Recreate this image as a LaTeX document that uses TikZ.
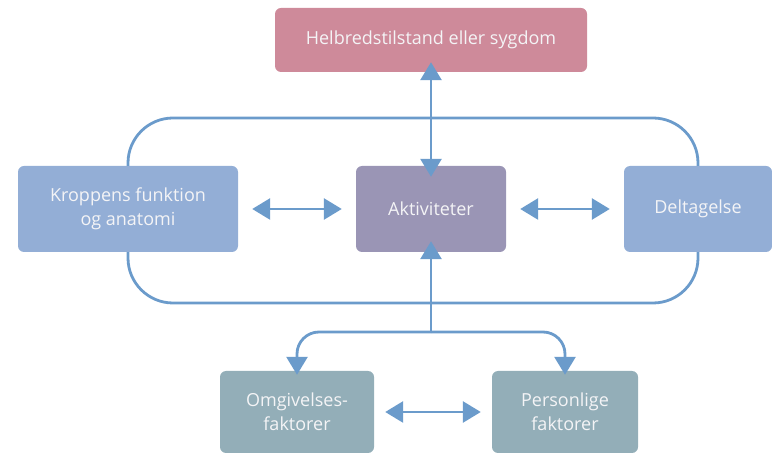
\documentclass[tikz,border=0pt]{standalone}
\usepackage{fontspec}
\setmainfont{Open Sans}
\usetikzlibrary{arrows.meta}
\definecolor{pinkbox}{HTML}{CE8A9A}
\definecolor{bluebox}{HTML}{93AED6}
\definecolor{purplebox}{HTML}{9A95B5}
\definecolor{tealbox}{HTML}{93AEB8}
\definecolor{linecol}{HTML}{6B9BCB}
\definecolor{txt}{HTML}{F4F4F6}
\begin{document}
\begin{tikzpicture}[x=1pt,y=-1pt,
  box/.style={rounded corners=6pt, text=txt, font=\fontsize{18}{24}\selectfont, align=center, inner sep=0pt, draw=none},
  conn/.style={draw=linecol, line width=2.8pt},
  dbl/.style={conn, {Triangle[length=18pt,width=21pt]}-{Triangle[length=18pt,width=21pt]}},
  one/.style={conn, -{Triangle[length=18pt,width=21pt]}}]
\useasboundingbox (0,0) rectangle (772,454);
\node[box, fill=pinkbox, minimum width=312pt, minimum height=64pt] (hs) at (431,40) {Helbredstilstand eller sygdom};
\node[box, fill=bluebox, minimum width=220pt, minimum height=86pt] (kb) at (128,209) {Kroppens funktion\\og anatomi};
\node[box, fill=purplebox, minimum width=150pt, minimum height=86pt] (akt) at (431,209) {Aktiviteter};
\node[box, fill=bluebox, minimum width=148pt, minimum height=86pt] (del) at (698,209) {Deltagelse};
\node[box, fill=tealbox, minimum width=154pt, minimum height=82pt] (omg) at (297,412) {Omgivelses-\\faktorer};
\node[box, fill=tealbox, minimum width=146pt, minimum height=82pt] (per) at (565,412) {Personlige\\faktorer};
% loop
\draw[conn, rounded corners=45pt] (kb.north) -- (128,118) -- (698,118) -- (del.north);
\draw[conn, rounded corners=45pt] (kb.south) -- (128,303) -- (698,303) -- (del.south);
% arrows
\draw[dbl] ([yshift=10pt]hs.south) -- ([yshift=-11pt]akt.north);
\draw[dbl] ([xshift=14pt]kb.east) -- ([xshift=-14pt]akt.west);
\draw[dbl] ([xshift=14pt]akt.east) -- ([xshift=-14pt]del.west);
\draw[dbl] ([xshift=11pt]omg.east) -- ([xshift=-11pt]per.west);
\coordinate (j) at (431,332);
\draw[one] (j) -- ([yshift=11pt]akt.south);
\draw[one, rounded corners=22pt] (j) -| ([yshift=-4pt]omg.north);
\draw[one, rounded corners=22pt] (j) -| ([yshift=-4pt]per.north);
\end{tikzpicture}
\end{document}
